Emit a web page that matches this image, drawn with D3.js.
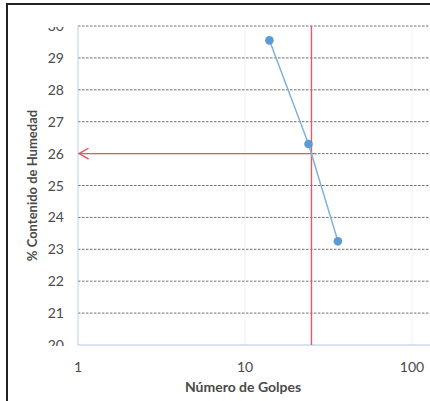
<!DOCTYPE html>
<html>
<head>
<meta charset="utf-8">
<script src="https://cdn.jsdelivr.net/npm/d3@7"></script>
<style>
  body { margin:0; background:#fff; }
  svg { display:block; }
</style>
</head>
<body>
<svg id="chart" width="430" height="401"></svg>
<script>
// data
var golpes   = [14, 24, 36];
var humedad  = [29.55, 26.3, 23.25];
var yTicks   = [20, 21, 22, 23, 24, 25, 26, 27, 28, 29, 30];
var xTicks   = [1, 10, 100];
var golpesRef  = 25;   // red vertical
var humedadRef = 26;   // red horizontal arrow

var FONT = "Lato, 'Open Sans', sans-serif";
var svg = d3.select("#chart");

var x = d3.scaleLog().domain([1, 100]).range([78, 412]);
var y = d3.scaleLinear().domain([20, 30]).range([345, 26]);
var PLOT_RIGHT = 430;

// arrow head
svg.append("defs").append("marker")
	.attr("id", "arrow_red")
	.attr("viewBox", "0 0 10 10")
	.attr("refX", 9).attr("refY", 5)
	.attr("markerWidth", 12).attr("markerHeight", 12)
	.attr("markerUnits", "userSpaceOnUse")
	.attr("orient", "auto")
	.append("path")
		.attr("d", "M1,0.5 L9,5 L1,9.5")
		.style("fill", "none")
		.style("stroke", "#dd5c6c")
		.style("stroke-width", 1.2);

// faint vertical grid at decades
svg.append("g").selectAll("line")
	.data(xTicks.slice(1))
	.enter().append("line")
		.attr("x1", function(d){ return x(d); })
		.attr("x2", function(d){ return x(d); })
		.attr("y1", y(30)).attr("y2", y(20))
		.style("stroke", "#eef1f4")
		.style("stroke-width", 1);

// dashed horizontal grid
svg.append("g").selectAll("line")
	.data(yTicks.slice(1))
	.enter().append("line")
		.attr("x1", x(1)).attr("x2", PLOT_RIGHT)
		.attr("y1", function(d){ return y(d); })
		.attr("y2", function(d){ return y(d); })
		.style("stroke", "#707070")
		.style("stroke-width", 1)
		.style("stroke-dasharray", "2.5,1.5");

// axis lines (light blue)
svg.append("line")
	.attr("x1", x(1)).attr("x2", x(1))
	.attr("y1", y(30)).attr("y2", y(20))
	.style("stroke", "#b9d4ea").style("stroke-width", 1);
svg.append("line")
	.attr("x1", x(1)).attr("x2", PLOT_RIGHT)
	.attr("y1", y(20)).attr("y2", y(20))
	.style("stroke", "#a9c9e6").style("stroke-width", 1.2);

// y tick labels
svg.append("g").selectAll("text")
	.data(yTicks)
	.enter().append("text")
		.attr("x", 64)
		.attr("y", function(d){ return y(d) + 5; })
		.attr("text-anchor", "end")
		.style("font-family", FONT)
		.style("font-size", "14px")
		.style("fill", "#4a4a4a")
		.text(function(d){ return d; });

// x tick labels
svg.append("g").selectAll("text")
	.data(xTicks)
	.enter().append("text")
		.attr("x", function(d){ return x(d); })
		.attr("y", 372)
		.attr("text-anchor", "middle")
		.style("font-family", FONT)
		.style("font-size", "14px")
		.style("fill", "#4a4a4a")
		.text(function(d){ return d; });

// the 30 and 20 labels are partly hidden in the original
svg.append("rect").attr("x", 30).attr("y", 0).attr("width", 44).attr("height", y(30) + 1).style("fill", "#fff");
svg.append("rect").attr("x", 30).attr("y", y(20) + 1).attr("width", 44).attr("height", 4).style("fill", "#fff");

// axis titles
svg.append("text")
	.attr("transform", "translate(37," + ((y(30) + y(20)) / 2) + ") rotate(-90)")
	.attr("text-anchor", "middle")
	.style("font-family", FONT)
	.style("font-size", "13px")
	.style("font-weight", "bold")
	.style("fill", "#4a4a4a")
	.text("% Contenido de Humedad");

svg.append("text")
	.attr("x", 243).attr("y", 392)
	.attr("text-anchor", "middle")
	.style("font-family", FONT)
	.style("font-size", "14px")
	.style("font-weight", "bold")
	.style("fill", "#4a4a4a")
	.text("Número de Golpes");

// red reference lines
svg.append("line")
	.attr("x1", x(golpesRef)).attr("x2", x(golpesRef))
	.attr("y1", y(30)).attr("y2", y(20))
	.style("stroke", "#dd5c6c").style("stroke-width", 1.4);
svg.append("line")
	.attr("x1", x(golpesRef) + 5).attr("x2", x(1) + 1)
	.attr("y1", y(humedadRef)).attr("y2", y(humedadRef))
	.style("stroke", "#dd5c6c").style("stroke-width", 1.4);
// arrow head: marker on a short segment pointing left
svg.append("line")
	.attr("x1", x(1) + 12).attr("x2", x(1) + 1)
	.attr("y1", y(humedadRef)).attr("y2", y(humedadRef))
	.attr("marker-end", "url(#arrow_red)")
	.style("stroke", "none");

// series
var pts = golpes.map(function(g, i){ return {g: g, h: humedad[i]}; });
svg.append("path")
	.datum(pts)
	.attr("d", d3.line().x(function(d){ return x(d.g); }).y(function(d){ return y(d.h); }))
	.style("fill", "none")
	.style("stroke", "#7fb2dc")
	.style("stroke-width", 1.5);
svg.append("g").selectAll("circle")
	.data(pts)
	.enter().append("circle")
		.attr("cx", function(d){ return x(d.g); })
		.attr("cy", function(d){ return y(d.h); })
		.attr("r", 4.3)
		.style("fill", "#5b9bd5");

// frame of the scanned page
svg.append("line").attr("x1", 6).attr("x2", 430).attr("y1", 4).attr("y2", 4)
	.style("stroke", "#222").style("stroke-width", 2);
svg.append("line").attr("x1", 7).attr("x2", 7).attr("y1", 3).attr("y2", 401)
	.style("stroke", "#222").style("stroke-width", 2);
</script>
</body>
</html>
